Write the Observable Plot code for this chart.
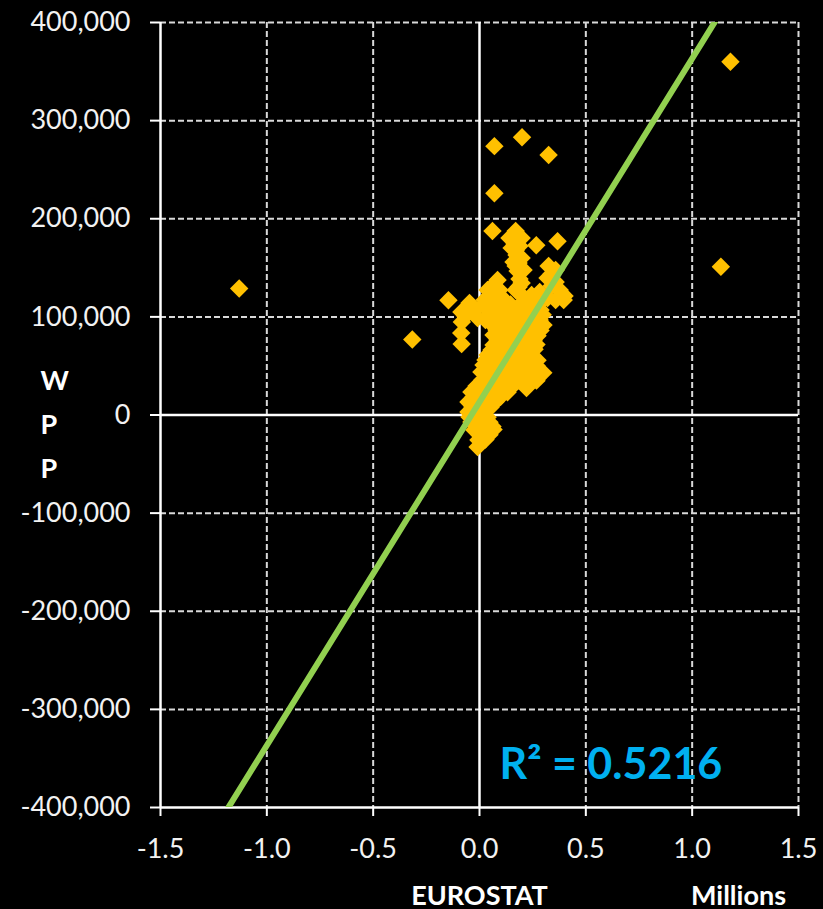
<!DOCTYPE html>
<html>
<head>
<meta charset="utf-8">
<script src="https://cdn.jsdelivr.net/npm/d3@7"></script>
<script src="https://cdn.jsdelivr.net/npm/@observablehq/plot@0.6"></script>
<style>
  html, body { margin: 0; padding: 0; background: #000; }
</style>
</head>
<body>
<div id="chart"></div>
<script>
// EUROSTAT values (millions) and WPP values
const eurostat = [
  // isolated points
  -1.13, -0.316, -0.146, 1.18, 1.135, 0.07, 0.20, 0.325, 0.07, 0.061, 0.367, 0.267,
  // top of central cluster
  0.170, 0.141, 0.198, 0.165, 0.188, 0.151,
  0.174, 0.184, 0.160, 0.207, 0.179, 0.188, 0.184, 0.193,
  0.170, 0.198, 0.170, 0.198, 0.170,
  // right arm
  0.325, 0.339, 0.358, 0.377, 0.400, 0.320, 0.358, 0.339,
  0.245, 0.283, 0.320, 0.358, 0.396, 0.217, 0.264,
  // left arm
  0.066, 0.094, 0.052, 0.108, 0.024, 0.085, 0.038, 0.080,
  -0.085, -0.083, -0.086, -0.084, -0.024, -0.047, -0.066, -0.009,
  // body
  0.019, 0.061, 0.104, 0.146, 0.188, 0.231, 0.273,
  0.038, 0.080, 0.122, 0.165, 0.207, 0.250, 0.287,
  0.047, 0.089, 0.132, 0.174, 0.217, 0.259, 0.297,
  0.028, 0.071, 0.113, 0.155, 0.198, 0.240, 0.283,
  0.061, 0.104, 0.146, 0.188, 0.231, 0.273, 0.301,
  0.080, 0.122, 0.165, 0.207, 0.250, 0.287,
  0.066, 0.108, 0.151, 0.193, 0.236, 0.273,
  0.085, 0.127, 0.170, 0.212, 0.254,
  0.066, 0.108, 0.151, 0.193, 0.236, 0.268,
  0.057, 0.099, 0.141, 0.184, 0.226, 0.259,
  0.038, 0.080, 0.122, 0.165, 0.207, 0.245,
  0.028, 0.071, 0.113, 0.155, 0.198, 0.240, 0.273,
  0.019, 0.061, 0.104, 0.146, 0.188, 0.231, 0.268,
  0.009, 0.300, 0.042, 0.085, 0.127, 0.170, 0.212, 0.254,
  0.014, 0.057, 0.099, 0.141, 0.184, 0.226, 0.268,
  -0.014, 0.028, 0.071, 0.113, 0.155,
  0.221,
  -0.038, 0.005, 0.047, 0.089, 0.132,
  -0.028, 0.014, 0.057, 0.099,
  -0.052, -0.009, 0.033, 0.075,
  -0.033, 0.009, 0.052,
  -0.052, -0.009, 0.024,
  -0.047, -0.005, 0.038,
  -0.038, 0.005, 0.047,
  -0.014, 0.028, 0.061,
  -0.024, 0.024, 0.066,
  0.009, 0.047,
  -0.005, 0.028,
  -0.009
];
const wpp = [
  129000, 77000, 117000, 360000, 151000, 274000, 283000, 265000, 226000, 187500, 177000, 173000,
  187500, 180400, 180400, 174300, 172200, 170200,
  163000, 154900, 155900, 147800, 146700, 138600, 130400, 123300,
  168000, 160000, 151800, 134500, 127400,
  151800, 143700, 135500, 127400, 121300, 139600, 147800, 131400,
  122300, 125300, 119200, 117200, 117200, 117200, 117200,
  132500, 127400, 122300, 119200, 117200, 137600, 127400, 117200,
  105000, 94800, 83600, 72300, 107000, 114100, 100900, 98800,
  112100, 113000, 111500, 112600, 111800, 112900, 111400,
  107000, 106400, 107600, 106800, 107300, 106500, 107100,
  101900, 101200, 102700, 101500, 102300, 101000, 102100,
  96800, 97300, 96400, 97000, 96600, 97400, 96900,
  91700, 92400, 91000, 92100, 91300, 92500, 91600,
  86600, 86100, 87000, 86400, 86900, 86200,
  81500, 80900, 82100, 81200, 81800, 80700,
  76400, 76900, 76000, 76700, 76200,
  71300, 72000, 70800, 71600, 70900, 71900,
  66200, 66700, 65800, 66400, 66000, 66900,
  61100, 60500, 61800, 60900, 61500, 60300,
  56000, 56600, 55700, 56300, 55500, 56200, 55900,
  51000, 51700, 50400, 51300, 50700, 51500, 50200,
  43800, 43000, 44100, 43500, 44300, 43700, 44000, 43300,
  35700, 36300, 35200, 35900, 35400, 36100, 35000,
  29500, 29900, 29200, 29700, 29300,
  27500,
  23400, 24000, 22900, 23600, 23100,
  18300, 18800, 17900, 18500,
  13200, 13800, 12700, 13400,
  8200, 8600, 7800,
  3100, 3600, 2700,
  -2000, -1600, -2400,
  -7100, -6600, -7500,
  -11200, -10800, -11600,
  -15300, -15800, -14900,
  -20400, -20000,
  -25500, -25000,
  -32600
];

// Excel linear trendline: WPP = slope * EUROSTAT(millions) + intercept
const trendSlope = 350000;
const trendIntercept = 13300;
const rSquaredLabel = "R² = 0.5216";

const xTicks = [-1.5, -1.0, -0.5, 0.0, 0.5, 1.0, 1.5];
const yTicks = [-400000, -300000, -200000, -100000, 0, 100000, 200000, 300000, 400000];
const xGrid = [-1.0, -0.5, 0.5, 1.0, 1.5];
const yGrid = [-300000, -200000, -100000, 100000, 200000, 300000, 400000];

const xTitle = "EUROSTAT";
const xUnit = "Millions";
const yTitle = "W\nP\nP";

const points = eurostat.map((x, i) => ({x, y: wpp[i]}));
const trendYs = [-450000, 450000];
const trend = trendYs.map(y => ({x: (y - trendIntercept) / trendSlope, y}));

const chart = Plot.plot({
  width: 823,
  height: 909,
  marginLeft: 160,
  marginRight: 25,
  marginTop: 22,
  marginBottom: 102,
  style: {background: "#000", color: "#fff", fontFamily: "Lato, 'Open Sans', sans-serif", fontSize: "27px"},
  x: {domain: [-1.5, 1.5]},
  y: {domain: [-400000, 400000]},
  marks: [
    Plot.ruleX(xGrid, {stroke: "#d9d9d9", strokeWidth: 2, strokeDasharray: "6,3"}),
    Plot.ruleY(yGrid, {stroke: "#d9d9d9", strokeWidth: 2, strokeDasharray: "6,3"}),
    Plot.ruleX([0], {stroke: "#fff", strokeWidth: 2.5}),
    Plot.ruleY([0], {stroke: "#fff", strokeWidth: 2.5}),
    Plot.ruleX([-1.5], {stroke: "#fff", strokeWidth: 2.5}),
    Plot.ruleY([-400000], {stroke: "#fff", strokeWidth: 2.5}),
    Plot.axisX({ticks: xTicks, tickSize: 9, tickPadding: 22, tickFormat: d => d.toFixed(1),
      label: null, stroke: "#fff", fill: "#f2f2f2", strokeWidth: 2, fontSize: 27}),
    Plot.axisY({ticks: yTicks, tickSize: 10, tickPadding: 20, tickFormat: d => d.toLocaleString("en-US"),
      label: null, stroke: "#fff", fill: "#f2f2f2", strokeWidth: 2, fontSize: 27}),
    Plot.dot(points, {x: "x", y: "y", symbol: "diamond2", r: 8.3, fill: "#FFC000", stroke: "none"}),
    Plot.line(trend, {x: "x", y: "y", stroke: "#92D050", strokeWidth: 6, clip: true}),
    Plot.text([rSquaredLabel], {text: d => d, frameAnchor: "bottom-left", textAnchor: "start", lineAnchor: "bottom",
      dx: 339, dy: -29, fill: "#00B0F0", fontSize: 43, fontWeight: "bold"}),
    Plot.text([xTitle], {text: d => d, frameAnchor: "bottom", lineAnchor: "bottom", dy: 97,
      fill: "#fff", fontSize: 27, fontWeight: "bold"}),
    Plot.text([xUnit], {text: d => d, frameAnchor: "bottom", lineAnchor: "bottom", dx: 259, dy: 97,
      fill: "#fff", fontSize: 27, fontWeight: "bold"}),
    Plot.text([yTitle], {text: d => d, frameAnchor: "left", lineAnchor: "middle", lineHeight: 1.62, dx: -120, dy: 5,
      fill: "#fff", fontSize: 27, fontWeight: "bold"})
  ]
});
document.getElementById("chart").appendChild(chart);
</script>
</body>
</html>
